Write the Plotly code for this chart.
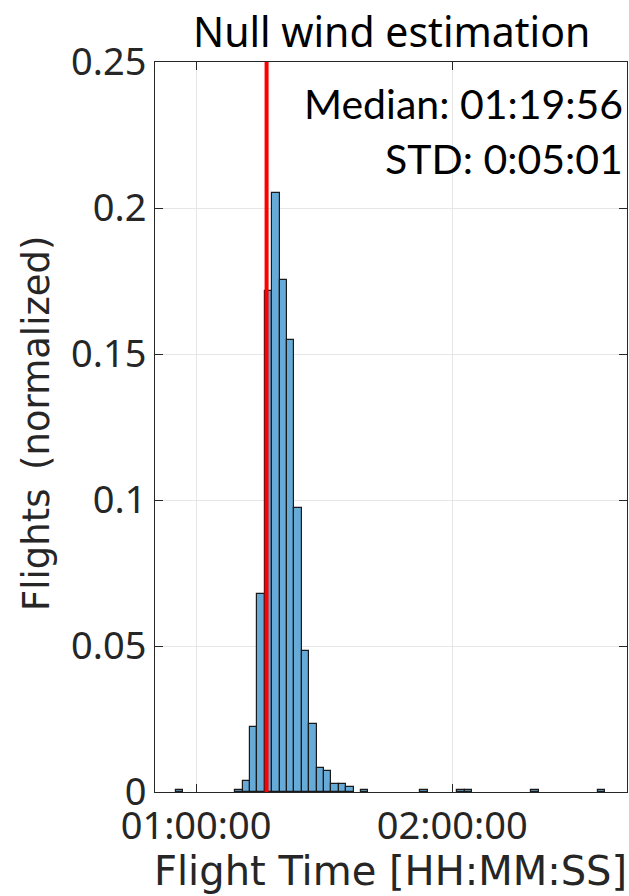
import plotly.graph_objects as go

# ---- data ----
bin_width_s = 104
first_bin_left_s = 3319          # left edge of first bin (seconds)
freq = [0.0008, 0, 0, 0, 0, 0, 0, 0,            # k=-8..-1
        0.0008, 0.0037, 0.0224, 0.0679, 0.1716, 0.2053, 0.1752, 0.1547,
        0.0971, 0.0482, 0.0233, 0.0081, 0.0071, 0.0027, 0.0027, 0.0018,
        0, 0.0008, 0, 0, 0, 0, 0, 0,
        0, 0.0008, 0, 0, 0, 0, 0.0008, 0.0008,
        0, 0, 0, 0, 0, 0, 0, 0,
        0.0008, 0, 0, 0, 0, 0, 0, 0,
        0, 0.0008]
reference_time_s = 4591
x_tick_vals = [3600, 7200]
x_tick_text = ["01:00:00", "02:00:00"]
y_tick_vals = [0, 0.05, 0.1, 0.15, 0.2, 0.25]
y_tick_text = ["0", "0.05", "0.1", "0.15", "0.2", "0.25"]
x_range = [3023, 9656]
y_range = [0, 0.25]
title_text = "Null wind estimation"
x_label = "Flight Time [HH:MM:SS]"
y_label = "Flights\u2002(normalized)"
median_text = "Median: 01:19:56"
std_text = "STD: 0:05:01"

centers = [first_bin_left_s + bin_width_s * (i + 0.5) for i in range(len(freq))]
xs = [c for c, f in zip(centers, freq) if f > 0]
ys = [f for f in freq if f > 0]

TICKFONT = "Noto Sans"
LABELFONT = "DejaVu Sans"
DARK = "#262626"

fig = go.Figure()
fig.add_trace(go.Bar(
    x=xs, y=ys, width=bin_width_s,
    marker=dict(color="#66AAD7", line=dict(color="#1a1a1a", width=1.2)),
    showlegend=False, hoverinfo="skip",
))
fig.add_trace(go.Scatter(
    x=[reference_time_s, reference_time_s], y=y_range,
    mode="lines", line=dict(color="#FF0000", width=4),
    showlegend=False, hoverinfo="skip", cliponaxis=False,
))

L, R, T, B = 155, 2, 62, 104
W, H = 629, 896
pw, ph = W - L - R, H - T - B

def px(x):
    return (x - L) / pw

def py(y):
    return (H - B - y) / ph

axis_common = dict(
    showgrid=True, gridcolor="#E6E6E6", gridwidth=1,
    ticks="inside", ticklen=8, tickcolor=DARK, tickwidth=1,
    showline=True, linecolor=DARK, linewidth=1, mirror="ticks",
    tickfont=dict(family=TICKFONT, size=38, color=DARK),
    zeroline=False, fixedrange=True, tickmode="array",
)

fig.update_layout(
    width=W, height=H,
    margin=dict(l=L, r=R, t=T, b=B, pad=0),
    paper_bgcolor="white", plot_bgcolor="white",
    bargap=0,
    font=dict(family=TICKFONT, color=DARK),
    xaxis=dict(range=x_range, tickvals=x_tick_vals, ticktext=x_tick_text, **axis_common),
    yaxis=dict(range=y_range, tickvals=y_tick_vals, ticktext=y_tick_text, **axis_common),
    annotations=[
        dict(text=title_text, x=px(391), y=py(31), xref="paper", yref="paper",
             xanchor="center", yanchor="middle", showarrow=False,
             font=dict(family=TICKFONT, size=41, color="black")),
        dict(text=x_label, x=px(390), y=py(871), xref="paper", yref="paper",
             xanchor="center", yanchor="middle", showarrow=False,
             font=dict(family=LABELFONT, size=40, color=DARK)),
        dict(text=y_label, x=px(36), y=py(423), xref="paper", yref="paper",
             xanchor="center", yanchor="middle", showarrow=False, textangle=-90,
             font=dict(family=LABELFONT, size=37, color=DARK)),
        dict(text=median_text, x=px(625), y=py(103), xref="paper", yref="paper",
             xanchor="right", yanchor="middle", showarrow=False,
             font=dict(family="Lato", size=41, color="black")),
        dict(text=std_text, x=px(625), y=py(158), xref="paper", yref="paper",
             xanchor="right", yanchor="middle", showarrow=False,
             font=dict(family="Lato", size=41, color="black")),
    ],
)

fig.write_html("out.html")
